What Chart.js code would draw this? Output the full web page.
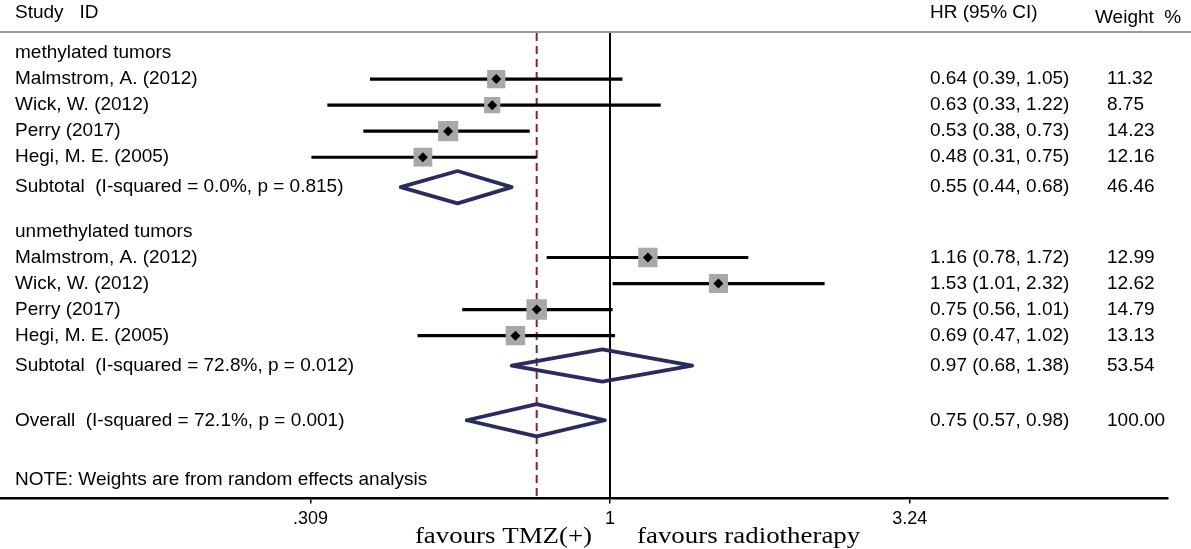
<!DOCTYPE html>
<html>
<head>
<meta charset="utf-8">
<title>Forest plot</title>
<script src="https://cdn.jsdelivr.net/npm/chart.js@4.4.1/dist/chart.umd.min.js"></script>
<style>
    html, body { margin: 0; padding: 0; background: #fff; }
    #wrap { width: 1191px; height: 549px; position: relative; }
</style>
</head>
<body>
<div id="wrap"><canvas id="forest"></canvas></div>
<script>
// --- data ---
const groupNames = ['methylated tumors', 'unmethylated tumors'];
const studyNames = ['Malmstrom, A. (2012)', 'Wick, W. (2012)', 'Perry (2017)', 'Hegi, M. E. (2005)'];

const methHR = [0.64, 0.63, 0.53, 0.48];
const methLow = [0.39, 0.33, 0.38, 0.31];
const methHigh = [1.05, 1.22, 0.73, 0.75];
const methWeight = [11.32, 8.75, 14.23, 12.16];

const unmethHR = [1.16, 1.53, 0.75, 0.69];
const unmethLow = [0.78, 1.01, 0.56, 0.47];
const unmethHigh = [1.72, 2.32, 1.01, 1.02];
const unmethWeight = [12.99, 12.62, 14.79, 13.13];

const subtotalHR = [0.55, 0.97];
const subtotalLow = [0.44, 0.68];
const subtotalHigh = [0.68, 1.38];
const subtotalWeight = [46.46, 53.54];
const subtotalI2 = ['0.0%', '72.8%'];
const subtotalP = ['0.815', '0.012'];

const overallHR = 0.75;
const overallLow = 0.57;
const overallHigh = 0.98;
const overallWeight = 100.00;
const overallI2 = '72.1%';
const overallP = '0.001';

const xTicks = [0.309, 1, 3.24];
const xTickLabels = ['.309', '1', '3.24'];

// --- row layout (in row units) ---
const Y_TOP = -0.77, Y_BOTTOM = 17.1;
const DIAMOND_HALF = 0.62;
const SANS = "'Liberation Sans', Arial, sans-serif";
const SERIF = "'Liberation Serif', 'Times New Roman', serif";

const groups = [
    { hr: methHR, lo: methLow, hi: methHigh, w: methWeight },
    { hr: unmethHR, lo: unmethLow, hi: unmethHigh, w: unmethWeight }
];

const rows = [];
let y = 0;
groups.forEach((g, gi) => {
    if (gi > 0) y += 1.7;
    rows.push({ y, kind: 'head', label: groupNames[gi] });
    g.hr.forEach((v, i) => {
        y += 1;
        rows.push({ y, kind: 'study', label: studyNames[i], hr: v, lo: g.lo[i], hi: g.hi[i], w: g.w[i] });
    });
    y += 1.15;
    rows.push({
        y, kind: 'pooled',
        label: 'Subtotal  (I-squared = ' + subtotalI2[gi] + ', p = ' + subtotalP[gi] + ')',
        hr: subtotalHR[gi], lo: subtotalLow[gi], hi: subtotalHigh[gi], w: subtotalWeight[gi]
    });
});
y += 2.1;
rows.push({
    y, kind: 'pooled',
    label: 'Overall  (I-squared = ' + overallI2 + ', p = ' + overallP + ')',
    hr: overallHR, lo: overallLow, hi: overallHigh, w: overallWeight
});
const noteRow = y + 2.3;

const studies = rows.filter(r => r.kind === 'study');
const pooled = rows.filter(r => r.kind === 'pooled');

// CI whiskers, broken with null points
const ciData = [];
studies.forEach(r => {
    ciData.push({ x: r.lo, y: r.y }, { x: r.hi, y: r.y }, { x: null, y: null });
});

// pooled diamonds as closed outlines
const diamondData = [];
pooled.forEach(r => {
    diamondData.push(
        { x: r.lo, y: r.y },
        { x: r.hr, y: r.y - DIAMOND_HALF },
        { x: r.hi, y: r.y },
        { x: r.hr, y: r.y + DIAMOND_HALF },
        { x: r.lo, y: r.y },
        { x: null, y: null }
    );
});

const fmt = v => v.toFixed(2);

// --- text columns, header rule, favours labels ---
const textPlugin = {
    id: 'forestText',
    afterDraw(chart) {
        const ctx = chart.ctx;
        const area = chart.chartArea;
        const ys = chart.scales.y;
        const xs = chart.scales.x;
        ctx.save();

        // header rule
        ctx.strokeStyle = '#9a9a9a';
        ctx.lineWidth = 2;
        ctx.beginPath();
        ctx.moveTo(0, area.top - 1);
        ctx.lineTo(chart.width, area.top - 1);
        ctx.stroke();

        ctx.fillStyle = '#000';
        ctx.textBaseline = 'middle';
        ctx.font = '19px ' + SANS;
        ctx.textAlign = 'left';
        ctx.fillText('Study   ID', 15, 13);
        ctx.fillText('HR (95% CI)', 930, 13);
        ctx.fillText('Weight  %', 1095, 18);

        rows.forEach(r => {
            const py = ys.getPixelForValue(r.y);
            ctx.fillText(r.label, 15, py);
            if (r.kind !== 'head') {
                ctx.fillText(fmt(r.hr) + ' (' + fmt(r.lo) + ', ' + fmt(r.hi) + ')', 930, py);
                ctx.fillText(fmt(r.w), 1107, py);
            }
        });
        ctx.fillText('NOTE: Weights are from random effects analysis', 15, ys.getPixelForValue(noteRow));

        // favours labels around the null line (slightly widened, as in the source)
        const nullPx = xs.getPixelForValue(1);
        const stretch = 1.12;
        ctx.font = '24px ' + SERIF;
        ctx.textBaseline = 'alphabetic';
        ctx.save();
        ctx.scale(stretch, 1);
        ctx.textAlign = 'right';
        ctx.fillText('favours TMZ(+)', (nullPx - 18) / stretch, 543);
        ctx.textAlign = 'left';
        ctx.fillText('favours radiotherapy', (nullPx + 27) / stretch, 543);
        ctx.restore();
        ctx.restore();
    }
};

new Chart(document.getElementById('forest'), {
    type: 'scatter',
    data: {
        datasets: [
            {
                // pooled diamonds
                data: diamondData,
                showLine: true,
                spanGaps: false,
                borderColor: '#2b2c5e',
                borderWidth: 3.8,
                borderJoinStyle: 'round',
                borderCapStyle: 'round',
                pointRadius: 0,
                fill: false,
                order: 1
            },
            {
                // point estimates
                data: studies.map(r => ({ x: r.hr, y: r.y })),
                pointStyle: 'rectRot',
                pointRadius: 5,
                backgroundColor: '#000',
                borderColor: '#000',
                borderWidth: 0,
                order: 2
            },
            {
                // weight boxes
                data: studies.map(r => ({ x: r.hr, y: r.y, w: r.w })),
                pointStyle: 'rect',
                pointRadius: c => 3.4 * Math.sqrt(c.raw.w),
                backgroundColor: '#a8a8a8',
                borderColor: '#a8a8a8',
                borderWidth: 2,
                order: 3
            },
            {
                // confidence intervals
                data: ciData,
                showLine: true,
                spanGaps: false,
                borderColor: '#000',
                borderWidth: 3.2,
                borderCapStyle: 'butt',
                pointRadius: 0,
                order: 4
            },
            {
                // overall estimate line
                data: [{ x: overallHR, y: Y_TOP }, { x: overallHR, y: Y_BOTTOM }],
                showLine: true,
                borderColor: '#8b2332',
                borderWidth: 2,
                borderDash: [8, 5],
                pointRadius: 0,
                order: 5
            },
            {
                // null line
                data: [{ x: 1, y: Y_TOP }, { x: 1, y: Y_BOTTOM }],
                showLine: true,
                borderColor: '#000',
                borderWidth: 2,
                pointRadius: 0,
                order: 6
            }
        ]
    },
    options: {
        responsive: true,
        maintainAspectRatio: false,
        animation: false,
        layout: { autoPadding: false, padding: { top: 33, left: 0, right: 23, bottom: 14 } },
        plugins: { legend: { display: false }, tooltip: { enabled: false } },
        scales: {
            x: {
                type: 'logarithmic',
                min: 0.0914,
                max: 8.92,
                bounds: 'data',
                afterBuildTicks: scale => {
                    scale.ticks = xTicks.map(v => ({ value: v }));
                },
                afterFit: scale => {
                    scale.paddingLeft = 0;
                    scale.paddingRight = 0;
                },
                ticks: {
                    color: '#000',
                    font: { family: SANS, size: 18 },
                    padding: 5,
                    maxRotation: 0,
                    autoSkip: false,
                    callback: (v, i) => xTickLabels[i]
                },
                grid: {
                    display: true,
                    drawOnChartArea: false,
                    drawTicks: true,
                    tickLength: 5,
                    color: '#000',
                    lineWidth: 1.5
                },
                border: { display: true, color: '#000', width: 2.5 }
            },
            y: {
                type: 'linear',
                display: false,
                reverse: true,
                min: Y_TOP,
                max: Y_BOTTOM
            }
        }
    },
    plugins: [textPlugin]
});
</script>
</body>
</html>
